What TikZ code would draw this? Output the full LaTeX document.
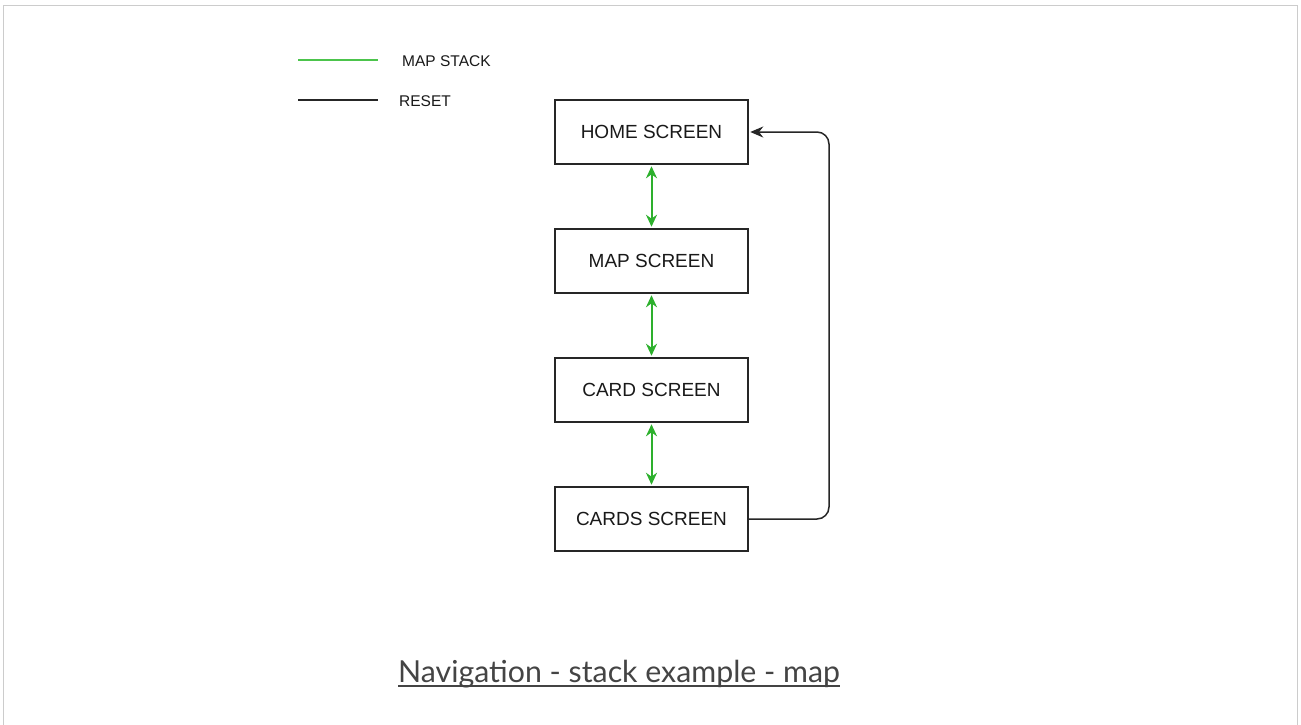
\documentclass[tikz,border=0pt]{standalone}
\usepackage{fontspec}
\setmainfont{Liberation Sans}
\newfontfamily\titlefont{Lato}
\usetikzlibrary{arrows.meta}
\definecolor{stackgreen}{HTML}{2DB02D}
\definecolor{legendgreen}{HTML}{4CC44C}
\definecolor{framegray}{HTML}{CCCCCC}
\definecolor{titlegray}{HTML}{444444}
\begin{document}
\begin{tikzpicture}[x=1pt,y=-1pt,
  screenbox/.style={draw=black!85,line width=1.5pt,minimum width=193pt,minimum height=64pt,inner sep=0pt,font=\fontsize{19}{22}\selectfont,text=black!90},
  stackarrow/.style={draw=stackgreen,line width=2pt,{Stealth[length=12pt,width=11pt]}-{Stealth[length=12pt,width=11pt]}},
  resetline/.style={draw=black!85,line width=1.5pt,rounded corners=12pt,-{Stealth[length=13pt,width=11pt]}},
  legendtext/.style={anchor=west,inner sep=0pt,font=\fontsize{15.5}{18}\selectfont,text=black!90}]
\useasboundingbox (0,0) rectangle (1301,724);
\fill[white] (0,0) rectangle (1301,724);
\draw[framegray,line width=1.8pt] (3.5,730) -- (3.5,5.5) -- (1297.5,5.5) -- (1297.5,730);
% legend
\coordinate (lg1a) at (298,60);
\coordinate (lg1b) at (378,60);
\coordinate (lg2a) at (298,100);
\coordinate (lg2b) at (378,100);
\draw[legendgreen,line width=1.5pt] (lg1a) -- (lg1b);
\draw[black!85,line width=1.5pt] (lg2a) -- (lg2b);
\node[legendtext] (lt1) at (402,61) {MAP STACK};
\node[legendtext] (lt2) at (399,101) {RESET};
% boxes
\node[screenbox] (home) at (651.5,132) {HOME SCREEN};
\node[screenbox] (map) at (651.5,261) {MAP SCREEN};
\node[screenbox] (card) at (651.5,390) {CARD SCREEN};
\node[screenbox] (cards) at (651.5,519) {CARDS SCREEN};
% arrows
\draw[stackarrow] ([yshift=-1.5pt]home.south) -- ([yshift=1.5pt]map.north);
\draw[stackarrow] ([yshift=-1.5pt]map.south) -- ([yshift=1.5pt]card.north);
\draw[stackarrow] ([yshift=-1.5pt]card.south) -- ([yshift=1.5pt]cards.north);
\coordinate (rb) at (829,519);
\coordinate (rt) at (829,132);
\draw[resetline] (cards.east) -- (rb) -- (rt) -- ([xshift=1.5pt]home.east);
% title
\node[inner sep=0pt,anchor=base west,text=titlegray,font=\titlefont\fontsize{30.3}{34}\selectfont] (title) at (398,682) {Navigation - stack example - map};
\draw[titlegray,line width=2pt] ([yshift=-4pt]title.base west) -- ([yshift=-4pt]title.base east);
\end{tikzpicture}
\end{document}
